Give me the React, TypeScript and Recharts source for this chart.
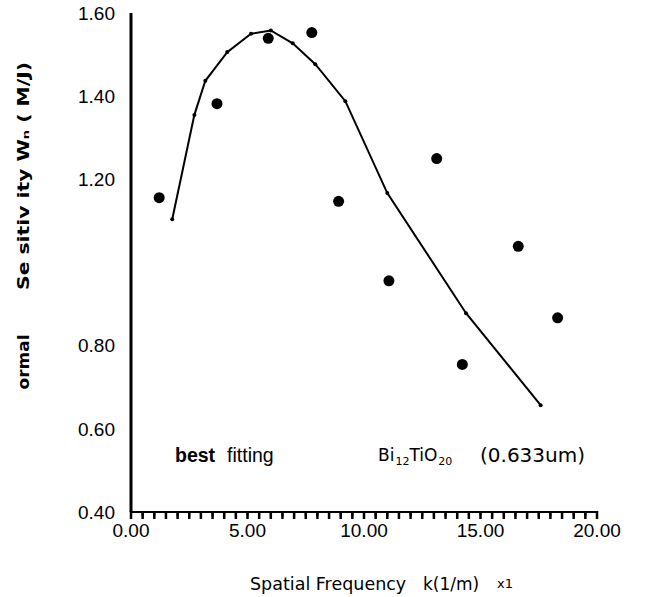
import React from 'react';
import { ScatterChart, Scatter, XAxis, YAxis } from 'recharts';

// best fitting curve (spatial frequency k, normalized sensitivity)
const fitK = [1.77, 2.72, 3.19, 4.13, 5.15, 6.0, 6.94, 7.91, 9.2, 11.0, 14.38, 17.58];
const fitW = [1.104, 1.355, 1.437, 1.506, 1.55, 1.558, 1.527, 1.477, 1.388, 1.167, 0.878, 0.657];

// measured points
const measK = [1.21, 3.69, 5.89, 7.76, 8.91, 11.07, 13.12, 14.22, 16.62, 18.31];
const measW = [1.156, 1.382, 1.539, 1.553, 1.147, 0.956, 1.25, 0.755, 1.039, 0.867];

const xTicks = [0, 0.5, 1, 1.5, 2, 2.5, 3, 3.5, 4, 4.5, 5, 5.5, 6, 6.5, 7, 7.5, 8, 8.5, 9, 9.5, 10, 10.5, 11, 11.5, 12, 12.5, 13, 13.5, 14, 14.5, 15, 15.5, 16, 16.5, 17, 17.5, 18, 18.5, 19, 19.5, 20];
const xLabelTicks = [0, 5, 10, 15, 20];
const yTicks = [0.4, 0.6, 0.8, 1.2, 1.4, 1.6];

const fitData = fitK.map((k, i) => ({ x: k, y: fitW[i] }));
const measData = measK.map((k, i) => ({ x: k, y: measW[i] }));

const tickFont = "'Liberation Sans', Arial, sans-serif";
const roundFont = "'DejaVu Sans', sans-serif";

const XTick = (props: any) => {
  const { x, y, payload } = props;
  const v = payload.value;
  // y = axis line y + tickSize(4) + tickMargin(8)
  return (
    <g>
      <rect x={x - 1.25} y={y - 13} width={2.5} height={8} fill="#000" />
      {xLabelTicks.includes(v) && (
        <text x={x} y={y} dy="0.71em" textAnchor="middle" fill="#000" fontSize={19} fontFamily={tickFont}>
          {v.toFixed(2)}
        </text>
      )}
    </g>
  );
};

const YTick = (props: any) => {
  const { x, y, payload } = props;
  return (
    <text x={x} y={y} dy="0.355em" textAnchor="end" fill="#000" fontSize={19} fontFamily={tickFont}>
      {payload.value.toFixed(2)}
    </text>
  );
};

const SmallDot = (props: any) => <circle cx={props.cx} cy={props.cy} r={2} fill="#000" />;
const BigDot = (props: any) => <circle cx={props.cx} cy={props.cy} r={5.5} fill="#000" />;

export default function App() {
  return (
    <div style={{ position: 'absolute', left: 0, top: 0, width: 657, height: 597, background: '#fff' }}>
      <ScatterChart width={657} height={597} margin={{ top: 13, right: 60, bottom: 55, left: 71 }}>
        <XAxis
          type="number"
          dataKey="x"
          domain={[0, 20]}
          ticks={xTicks}
          interval={0}
          minTickGap={0}
          tick={<XTick />}
          tickSize={4}
          tickMargin={8}
          tickLine={{ stroke: '#000', strokeWidth: 2 }}
          axisLine={{ stroke: '#000', strokeWidth: 2 }}
          height={30}
        />
        <YAxis
          type="number"
          dataKey="y"
          domain={[0.4, 1.6]}
          ticks={yTicks}
          interval={0}
          tick={<YTick />}
          tickLine={false}
          tickSize={0}
          tickMargin={16}
          axisLine={{ stroke: '#000', strokeWidth: 3 }}
          width={60}
        />
        <Scatter
          data={fitData}
          line={{ stroke: '#000', strokeWidth: 2 }}
          shape={<SmallDot />}
          isAnimationActive={false}
        />
        <Scatter data={measData} shape={<BigDot />} isAnimationActive={false} />
      </ScatterChart>
      <svg width={657} height={597} style={{ position: 'absolute', left: 0, top: 0, pointerEvents: 'none' }}>
        <text x={175} y={462} fontSize={19.5} fontFamily={tickFont} fill="#000">
          <tspan fontWeight="bold">best</tspan>
          <tspan dx={12}>fitting</tspan>
        </text>
        <text x={378} y={461} fontSize={17} fontFamily={roundFont} fill="#000">
          Bi<tspan fontSize={11} dy={4} dx={1}>12</tspan>
          <tspan dy={-4}>TiO</tspan>
          <tspan fontSize={11} dy={4} dx={1}>20</tspan>
        </text>
        <text x={480} y={462} fontSize={20} fontFamily={roundFont} fill="#000">(0.633um)</text>
        <text x={250} y={590} fontSize={17.5} fontFamily={roundFont} fill="#000">Spatial Frequency</text>
        <text x={423} y={590} fontSize={17} fontFamily={roundFont} fill="#000">k(1/m)</text>
        <text x={497} y={588} fontSize={13} fontFamily={roundFont} fill="#000">x1</text>
        <text
          x={23}
          y={176}
          transform="rotate(-90 23 176)"
          textAnchor="middle"
          dy="0.35em"
          fontSize={16}
          fontWeight="bold"
          fontFamily={roundFont}
          fill="#000"
          textLength={228}
          lengthAdjust="spacingAndGlyphs"
        >
          Se sitiv ity Wₙ ( M/J)
        </text>
        <text
          x={23}
          y={362}
          transform="rotate(-90 23 362)"
          textAnchor="middle"
          dy="0.35em"
          fontSize={16}
          fontWeight="bold"
          fontFamily={roundFont}
          fill="#000"
          textLength={55}
          lengthAdjust="spacingAndGlyphs"
        >
          ormal
        </text>
      </svg>
    </div>
  );
}
